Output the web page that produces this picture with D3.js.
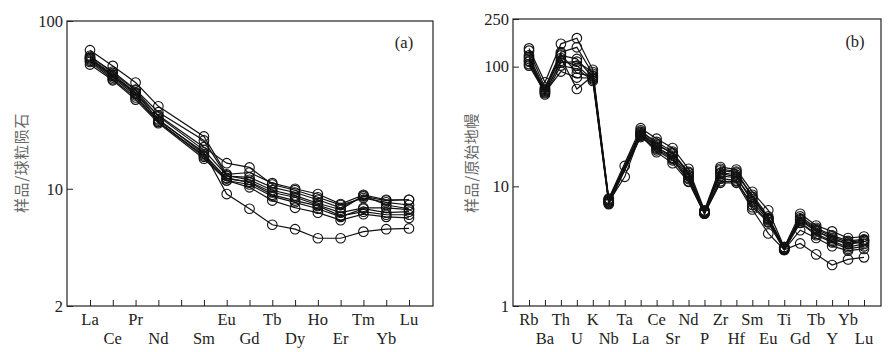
<!DOCTYPE html>
<html><head><meta charset="utf-8">
<script src="https://cdn.jsdelivr.net/npm/d3@7/dist/d3.min.js"></script>
<style>body{margin:0;background:#fff}svg{display:block}</style>
</head><body><svg id="c" width="896" height="352"></svg>
<script>
// ---------- Panel (a): REE chondrite-normalized ----------
const reeElements = ["La","Ce","Pr","Nd","Pm","Sm","Eu","Gd","Tb","Dy","Ho","Er","Tm","Yb","Lu"];
const reeTicks = [2, 10, 100];
const reeS1 = [67, 54, 43, 31, null, 20.5, 12.2, 12.5, 10.8, 10.0, 9.3, 8.1, 9.2, 8.6, 8.6];
const reeS2 = [61, 50, 39, 28.6, null, 19.4, 11.9, 11.7, 10.2, 9.5, 8.6, 7.7, 9.0, 8.5, 8.6];
const reeS3 = [60, 47, 37, 27.4, null, 17.7, 14.2, 13.4, 10.6, 9.8, 8.9, 8.0, 8.8, 8.3, 8.0];
const reeS4 = [59, 47, 36.9, 26, null, 16.1, 11.5, 11.0, 9.5, 8.9, 8.0, 7.2, 7.7, 7.7, 7.5];
const reeS5 = [58, 46, 36, 25, null, 15.5, 11.2, 10.6, 9.0, 8.3, 7.6, 6.8, 7.6, 7.2, 7.3];
const reeS6 = [55, 44.3, 34, 24.6, null, 15.1, 11.2, 10.2, 8.5, 7.7, 7.2, 6.5, 7.05, 6.8, 6.7];
const reeS7 = [60, 48, 37.5, 25.5, null, 16.5, 9.3, 7.6, 6.1, 5.74, 5.07, 5.07, 5.55, 5.74, 5.8];
const reeS8 = [62, 49, 38.6, 27, null, 17, 12.0, 11.3, 9.8, 9.1, 8.2, 7.5, 9.1, 8.0, 7.6];
const reeS9 = [57, 45, 35, 25, null, 15.8, 11.6, 10.9, 9.2, 8.5, 7.9, 6.9, 7.3, 7.0, 7.0];
const reeSeries = [reeS1, reeS2, reeS3, reeS4, reeS5, reeS6, reeS7, reeS8, reeS9];

// ---------- Panel (b): primitive-mantle-normalized spider ----------
const spiderElements = ["Rb","Ba","Th","U","K","Nb","Ta","La","Ce","Sr","Nd","P","Zr","Hf","Sm","Eu","Ti","Gd","Tb","Y","Yb","Lu"];
const spiderTicks = [1, 10, 100, 250];
const spS1 = [142, 74, 155, 173, 94, 7.9, null, 30.6, 25, 20.9, 14.0, 6.3, 14.5, 13.8, 9.0, 6.3, 3.1, 5.9, 4.7, 4.2, 3.7, 3.8];
const spS2 = [136, 67, 132, 145, 87, 7.6, 14.8, 29.3, 22.7, 18.7, 12.9, 6.1, 13.6, 13.0, 8.2, 5.4, 3.0, 5.4, 4.4, 3.8, 3.4, 3.55];
const spS3 = [124, 63, 124, 116, 81, 7.4, 12.0, 27.5, 21.5, 17.3, 11.8, 6.0, 12.8, 12.0, 7.4, 5.2, 3.0, 5.0, 4.0, 3.5, 3.1, 3.3];
const spS4 = [116, 60, 112, 102, 78, 7.2, null, 25.8, 20.6, 17.0, 11.0, 5.9, 11.6, 11.2, 6.7, 5.0, 2.95, 4.3, 3.7, 3.16, 2.9, 3.0];
const spS5 = [110, 58.5, 102, 96, 76, 7.1, null, 26.5, 19.3, 15.6, 10.9, 5.9, 10.7, 10.7, 6.4, 4.04, 2.95, 3.33, 2.7, 2.2, 2.45, 2.55];
const spS6 = [102, 61, 91, 81, 80, 7.5, null, 27, 21, 18, 12.2, 6.2, 12.2, 11.8, 7.8, 5.4, 3.1, 5.2, 4.2, 3.7, 3.3, 3.4];
const spS7 = [105, 65, 118, 65, 84, 7.8, null, 28, 22, 19, 13.2, 6.1, 13.0, 12.5, 8.5, 5.6, 3.05, 5.6, 4.5, 3.9, 3.5, 3.6];
const spS8 = [112, 62, 108, 110, 90, 7.3, null, 26.5, 20, 16.5, 11.5, 5.95, 11.0, 11.0, 7.0, 5.04, 2.93, 4.95, 3.9, 3.4, 3.0, 3.15];
const spS9 = [120, 64, 128, 88, 83, 7.7, null, 28.5, 23.5, 19.5, 12.5, 6.2, 14.0, 13.3, 8.1, 5.3, 3.1, 5.3, 4.3, 3.6, 3.3, 3.5];
const spiderSeries = [spS1, spS2, spS3, spS4, spS5, spS6, spS7, spS8, spS9];

const svg = d3.select("#c");
const serif = "'Liberation Serif','Times New Roman',serif";

function panel(cfg) {
  const g = svg.append("g");
  const x = d3.scalePoint().domain(cfg.cats).range([cfg.x0, cfg.x1]);
  const y = d3.scaleLog().domain(cfg.ydom).range([cfg.bottom, cfg.top]);
  // frame
  g.append("rect").attr("x", cfg.left).attr("y", cfg.top)
    .attr("width", cfg.right - cfg.left).attr("height", cfg.bottom - cfg.top)
    .attr("fill", "none").attr("stroke", "#222").attr("stroke-width", 1.2);
  // x ticks (inside) and labels
  const xa = d3.axisBottom(x).tickSize(-6).tickFormat("");
  const gx = g.append("g").attr("transform", `translate(0,${cfg.bottom})`).call(xa);
  gx.select(".domain").remove();
  gx.selectAll("line").attr("stroke", "#222").attr("stroke-width", 1);
  cfg.cats.forEach((c, i) => {
    if (cfg.skip.includes(c)) return;
    g.append("text").attr("x", x(c)).attr("y", i % 2 === 0 ? 325 : 344)
      .attr("text-anchor", "middle").attr("font-family", serif)
      .attr("font-size", 16.5).attr("fill", "#222").text(c);
  });
  // y ticks (inside) and labels
  const ya = d3.axisLeft(y).tickValues(cfg.yticks).tickSize(-6).tickFormat(d3.format("d"));
  const gy = g.append("g").attr("transform", `translate(${cfg.left},0)`).call(ya);
  gy.select(".domain").remove();
  gy.selectAll("line").attr("stroke", "#222");
  gy.selectAll("text").attr("font-family", serif).attr("font-size", 16.5)
    .attr("fill", "#222").attr("x", -4).attr("dy", "0.32em");
  // y axis title
  g.append("text").attr("transform", `translate(${cfg.titleX},${cfg.titleY}) rotate(-90)`)
    .attr("text-anchor", "middle").attr("dominant-baseline", "central")
    .attr("font-family", "'Noto Sans CJK SC',sans-serif").attr("font-size", 15)
    .attr("letter-spacing", 0.6)
    .attr("fill", "#666").text(cfg.title);
  // panel tag
  g.append("text").attr("x", cfg.tagX).attr("y", cfg.tagY).attr("text-anchor", "middle")
    .attr("font-family", serif).attr("font-size", 16.5).attr("fill", "#222").text(cfg.tag);
  // series
  const line = d3.line().x(d => x(d.c)).y(d => y(d.v));
  cfg.series.forEach(s => {
    const pts = s.map((v, i) => ({c: cfg.cats[i], v})).filter(d => d.v != null);
    g.append("path").attr("d", line(pts)).attr("fill", "none")
      .attr("stroke", "#111").attr("stroke-width", 1.2);
    g.selectAll(null).data(pts).enter().append("circle")
      .attr("cx", d => x(d.c)).attr("cy", d => y(d.v)).attr("r", 4.8)
      .attr("fill", "none").attr("stroke", "#111").attr("stroke-width", 1.1);
  });
}

panel({
  cats: reeElements, skip: ["Pm"], series: reeSeries, yticks: reeTicks, ydom: [2, 100],
  left: 67, right: 433, top: 21, bottom: 306, x0: 90, x1: 409,
  title: "样品/球粒陨石", titleX: 20, titleY: 163, tag: "(a)", tagX: 404, tagY: 48
});
panel({
  cats: spiderElements, skip: [], series: spiderSeries, yticks: spiderTicks, ydom: [1, 250],
  left: 513, right: 881, top: 19, bottom: 306, x0: 529, x1: 864,
  title: "样品/原始地幔", titleX: 470, titleY: 163, tag: "(b)", tagX: 855, tagY: 47
});
</script></body></html>
